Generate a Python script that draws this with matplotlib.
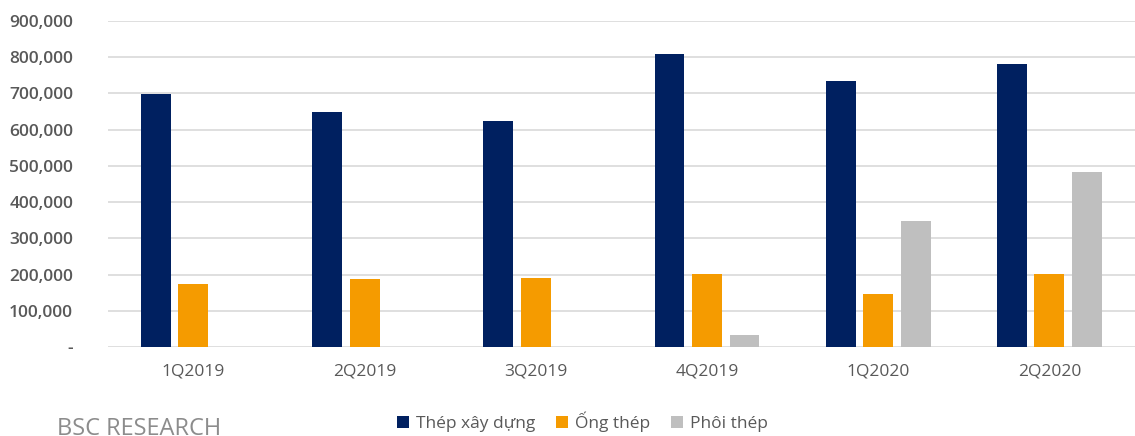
import numpy as np
import matplotlib.pyplot as plt
from matplotlib.ticker import FuncFormatter

quarters = ['1Q2019', '2Q2019', '3Q2019', '4Q2019', '1Q2020', '2Q2020']
thep_xay_dung = [698000, 650000, 624000, 809000, 733000, 782000]
ong_thep = [174000, 188000, 190000, 202000, 146000, 202000]
phoi_thep = [0, 0, 0, 32000, 347000, 484000]

series_names = ['Thép xây dựng', 'Ống thép', 'Phôi thép']
colors = ['#002060', '#F59B00', '#BFBFBF']

plt.rcParams['font.family'] = ['Open Sans', 'DejaVu Sans']

fig = plt.figure(figsize=(11.35, 4.36), dpi=100)
ax = fig.add_axes([0.095, 0.204, 0.905, 0.748])

x = np.arange(len(quarters))
w = 0.175
step = 0.219
for i, (vals, name, c) in enumerate(zip([thep_xay_dung, ong_thep, phoi_thep], series_names, colors)):
    ax.bar(x + (i - 1) * step, vals, width=w, color=c, label=name, zorder=3)

ax.set_xlim(-0.5, len(quarters) - 0.5)
ax.set_ylim(0, 900000)
ax.set_yticks(np.arange(0, 900001, 100000))
ax.yaxis.set_major_formatter(FuncFormatter(lambda v, p: '-' if v == 0 else f'{int(v):,}'))
ax.set_xticks(x)
ax.set_xticklabels(quarters)

ax.grid(axis='y', color='#D9D9D9', linewidth=1.2, zorder=0)
for s in ax.spines.values():
    s.set_visible(False)
ax.tick_params(axis='both', length=0, colors='#595959', labelsize=12.5)
ax.tick_params(axis='x', pad=12)
ax.tick_params(axis='y', pad=25)
for lbl in ax.get_yticklabels():
    lbl.set_fontweight('semibold')

# legend sits under the categories, a bit left of centre
ax.legend(loc='upper center', bbox_to_anchor=(0.462, -0.15), ncol=3, frameon=False,
          fontsize=12.5, labelcolor='#595959', handlelength=0.7, handleheight=0.7,
          handletextpad=0.4, columnspacing=1.2)

fig.text(0.05, -0.012, 'BSC RESEARCH', fontsize=17, color='#8C8C8C', va='bottom')

fig.savefig('out.png', dpi=100)
